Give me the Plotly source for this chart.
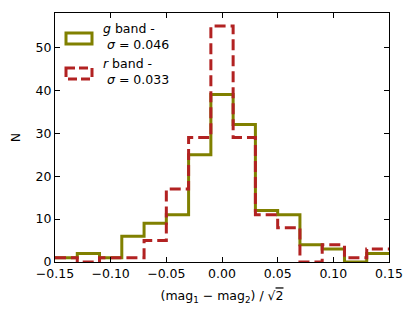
import plotly.graph_objects as go

edges = [-0.15, -0.13, -0.11, -0.09, -0.07, -0.05, -0.03, -0.01, 0.01, 0.03, 0.05, 0.07, 0.09, 0.11, 0.13, 0.15]
g_counts = [1, 2, 1, 6, 9, 11, 25, 39, 32, 12, 11, 4, 3, 0, 2]
r_counts = [1, 0, 1, 1, 5, 17, 29, 55, 29, 11, 8, 0, 4, 1, 3]
x_ticks = [-0.15, -0.10, -0.05, 0.00, 0.05, 0.10, 0.15]
x_ticklabels = ["\u22120.15", "\u22120.10", "\u22120.05", "0.00", "0.05", "0.10", "0.15"]
y_ticks = [0, 10, 20, 30, 40, 50]

G_COLOR = "#808000"
R_COLOR = "#B22222"
FONT = "DejaVu Sans"

fig = go.Figure()
fig.add_trace(go.Scatter(x=edges, y=g_counts + [g_counts[-1]], mode="lines",
                         line=dict(shape="hv", color=G_COLOR, width=3), showlegend=False))
fig.add_trace(go.Scatter(x=edges, y=r_counts + [r_counts[-1]], mode="lines",
                         line=dict(shape="hv", color=R_COLOR, width=3, dash="11px,5px"), showlegend=False))

# page offset caused by default body margin
OFF = 8
W, H = 416 - OFF, 319 - OFF
# target plot area in page pixels: left 55, right 389, top 13, bottom 262
L = 55 - OFF
T = 13 - OFF
R = (OFF + W) - 389
B = (OFF + H) - 262
pw, ph = W - L - R, H - T - B

def px2paper(x, y):
    # x, y in page pixels
    return (x - OFF - L) / pw, 1 - (y - OFF - T) / ph

x0, y0 = px2paper(66, 33)
x1, y1 = px2paper(92, 44)
fig.add_shape(type="rect", xref="paper", yref="paper", x0=x0, y0=y0, x1=x1, y1=y1,
              line=dict(color=G_COLOR, width=3))
x0, y0 = px2paper(66, 68)
x1, y1 = px2paper(92, 79)
fig.add_shape(type="rect", xref="paper", yref="paper", x0=x0, y0=y0, x1=x1, y1=y1,
              line=dict(color=R_COLOR, width=3, dash="9px,4px"))

tx, ty = px2paper(101, 37)
fig.add_annotation(xref="paper", yref="paper", x=tx, y=ty, xanchor="left", yanchor="middle",
                   text="<i>g</i> band -<br> <i>\u03c3</i> = 0.046", showarrow=False, align="left",
                   font=dict(family=FONT, size=12.5, color="black"))
tx, ty = px2paper(101, 71)
fig.add_annotation(xref="paper", yref="paper", x=tx, y=ty, xanchor="left", yanchor="middle",
                   text="<i>r</i> band -<br> <i>\u03c3</i> = 0.033", showarrow=False, align="left",
                   font=dict(family=FONT, size=12.5, color="black"))

fig.update_layout(
    width=W, height=H,
    margin=dict(l=L, r=R, t=T, b=B),
    plot_bgcolor="white", paper_bgcolor="white",
    font=dict(family=FONT, size=12.5, color="black"),
    xaxis=dict(range=[-0.15, 0.15], tickvals=x_ticks, ticktext=x_ticklabels,
               ticks="inside", ticklen=5, tickwidth=1, tickcolor="black",
               showline=True, linecolor="black", linewidth=1.2, mirror="ticks",
               showgrid=False, zeroline=False,
               title=dict(text="(mag<sub>1</sub> \u2212 mag<sub>2</sub>) / \u221a<span style=\"text-decoration:overline\">2</span>",
                          standoff=11, font=dict(family=FONT, size=12.5))),
    yaxis=dict(range=[0, 58], tickvals=y_ticks,
               ticks="inside", ticklen=5, tickwidth=1, tickcolor="black",
               showline=True, linecolor="black", linewidth=1.2, mirror="ticks",
               showgrid=False, zeroline=False,
               title=dict(text="N", standoff=12, font=dict(family=FONT, size=12.5))),
)

fig.write_html("out.html")
